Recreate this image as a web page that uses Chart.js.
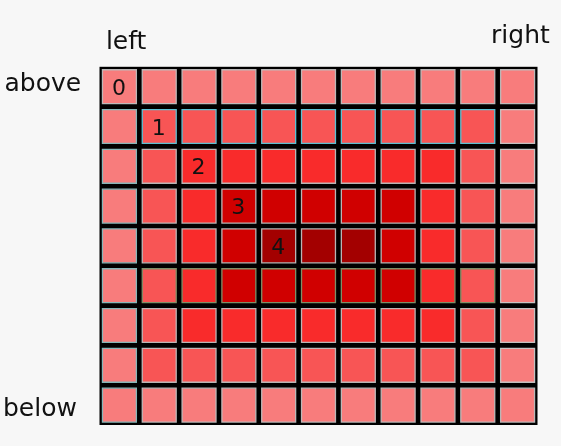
<!DOCTYPE html>
<html><head><meta charset="utf-8">
<script src="https://cdn.jsdelivr.net/npm/chart.js@4/dist/chart.umd.min.js"></script>
<style>html,body{margin:0;padding:0;background:#f7f7f7;}#wrap{position:relative;width:561px;height:446px;}canvas{display:block;}</style>
</head><body><div id="wrap"><canvas id="c" width="561" height="446"></canvas></div>
<script>
// Grid: 11 columns x 9 rows, each cell holds an intensity level 0..4
const columns = [0,1,2,3,4,5,6,7,8,9,10];
const rows = [0,1,2,3,4,5,6,7,8];
const levels = [
  [0,0,0,0,0,0,0,0,0,0,0],
  [0,1,1,1,1,1,1,1,1,1,0],
  [0,1,2,2,2,2,2,2,2,1,0],
  [0,1,2,3,3,3,3,3,2,1,0],
  [0,1,2,3,4,4,4,3,2,1,0],
  [0,1,2,3,3,3,3,3,2,1,0],
  [0,1,2,2,2,2,2,2,2,1,0],
  [0,1,1,1,1,1,1,1,1,1,0],
  [0,0,0,0,0,0,0,0,0,0,0]
];
// numbered cells on the diagonal
const labelCols = [0,1,2,3,4];
const labelRows = [0,1,2,3,4];
const labelTexts = ['0','1','2','3','4'];
// corner annotations
const topLabels = ['left','right'];
const sideLabels = ['above','below'];

const levelColors = ['#f87c7c','#f85555','#f92b2b','#d00000','#a30000'];

const points = [], fills = [], borders = [];
rows.forEach(r => columns.forEach(c => {
  points.push({x: c, y: r});
  fills.push(levelColors[levels[r][c]]);
  let b = 'rgba(190,190,190,0.95)';
  if (r === 1 && c >= 1 && c <= 9) b = '#5cc0d2';
  else if (c === 0 && r >= 1) b = '#86b6b8';
  else if (r === 5 && c >= 1 && c <= 9) b = '#7d8f68';
  else if (c === 10 && r >= 1 && r <= 7) b = 'rgba(200,200,200,0.95)';
  borders.push(b);
}));

const annotate = {
  id: 'annotate',
  beforeDatasetsDraw(chart) {
    const {ctx, chartArea: a} = chart;
    ctx.save();
    ctx.fillStyle = '#000';
    ctx.fillRect(a.left, a.top, a.right - a.left, a.bottom - a.top);
    ctx.restore();
  },
  afterDatasetsDraw(chart) {
    const {ctx} = chart;
    const xs = chart.scales.x, ys = chart.scales.y;
    ctx.save();
    ctx.fillStyle = '#111';
    ctx.font = '22px "DejaVu Sans"';
    ctx.textAlign = 'center';
    ctx.textBaseline = 'alphabetic';
    labelTexts.forEach((t, i) => {
      ctx.fillText(t, xs.getPixelForValue(labelCols[i]) - 0.5, ys.getPixelForValue(labelRows[i]) + 8);
    });
    ctx.font = '25px "DejaVu Sans"';
    ctx.textAlign = 'left';
    ctx.fillText(topLabels[0], xs.getPixelForValue(columns[0]) - 13.5, 48.5);
    ctx.fillText(topLabels[1], xs.getPixelForValue(columns[columns.length-1]) - 26.5, 42.5);
    ctx.fillText(sideLabels[0], 4.5, ys.getPixelForValue(rows[0]) + 4);
    ctx.fillText(sideLabels[1], 3, ys.getPixelForValue(rows[rows.length-1]) + 11);
    ctx.restore();
  }
};

new Chart(document.getElementById('c'), {
  type: 'scatter',
  data: {datasets: [{
    data: points,
    pointStyle: 'rect',
    pointRadius: 24,
    pointHoverRadius: 24,
    backgroundColor: fills,
    borderColor: borders,
    borderWidth: 1.3,
    clip: false
  }]},
  options: {
    responsive: false,
    animation: false,
    devicePixelRatio: 1,
    events: [],
    layout: {autoPadding: false, padding: {left: 99.5, right: 23.5, top: 66.8, bottom: 21}},
    plugins: {legend: {display: false}, tooltip: {enabled: false}},
    scales: {
      x: {type: 'linear', min: -0.5, max: 10.5, display: false},
      y: {type: 'linear', min: -0.5, max: 8.5, reverse: true, display: false}
    }
  },
  plugins: [annotate]
});
</script>
</body></html>
